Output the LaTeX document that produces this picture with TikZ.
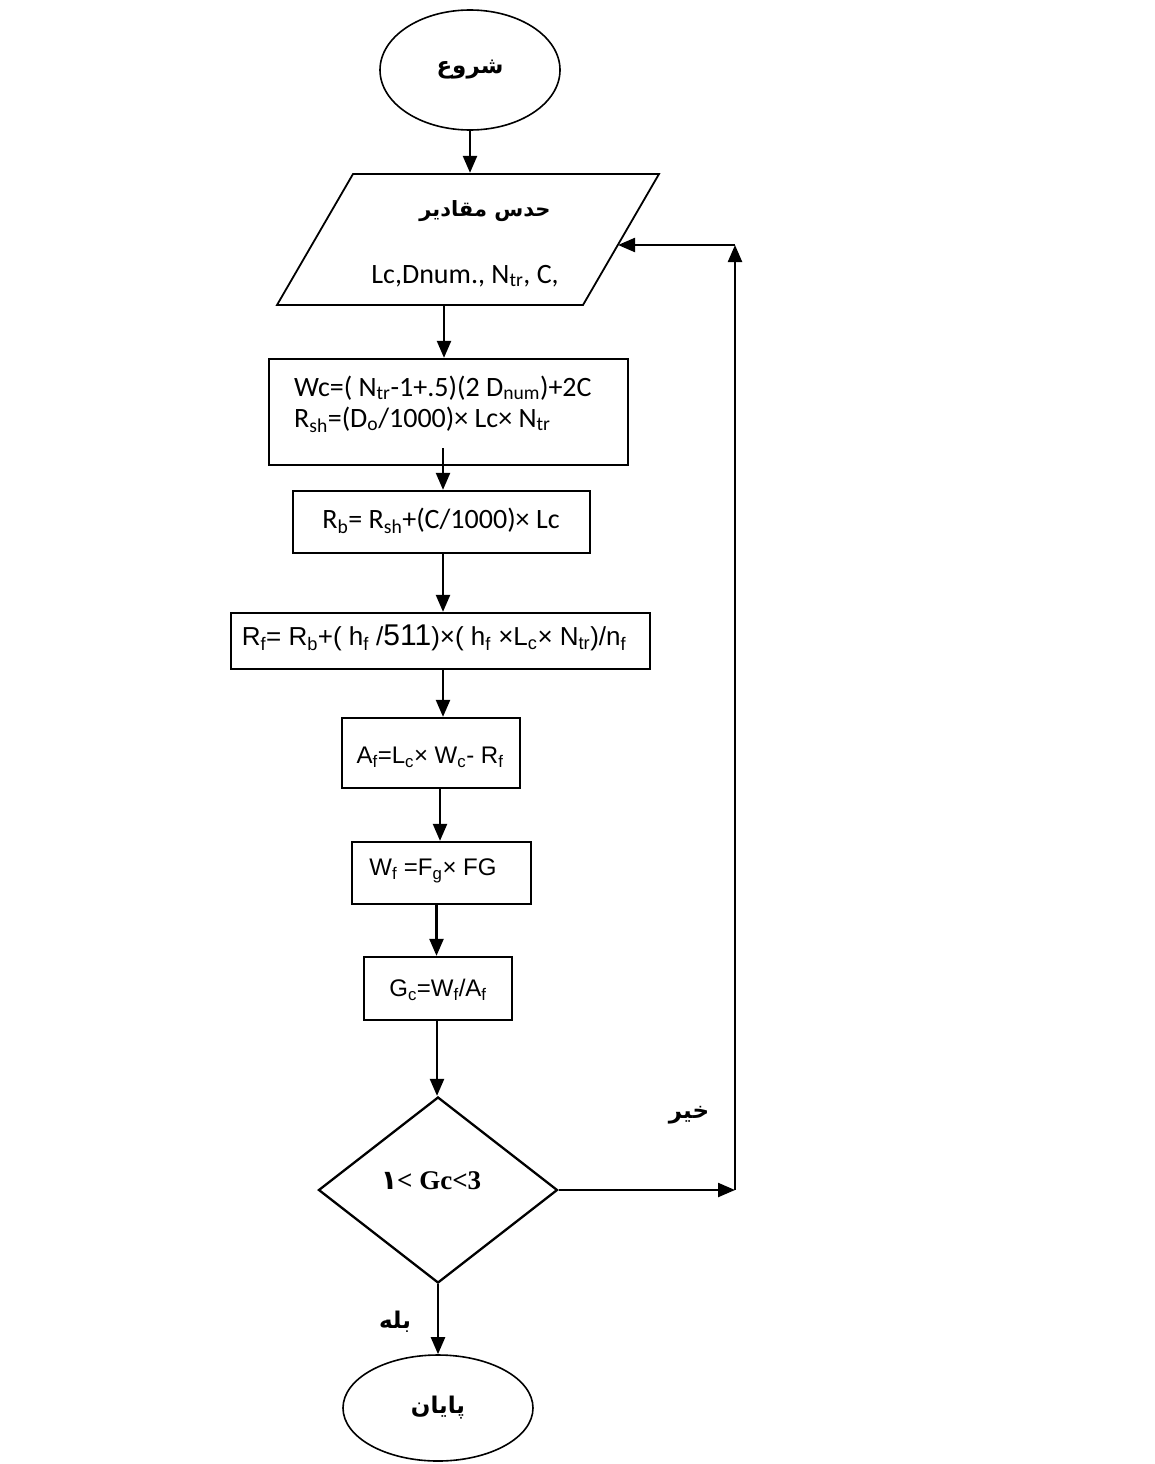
\documentclass[tikz,border=0pt]{standalone}
\usepackage{fontspec}
\setmainfont{Liberation Serif}
\newfontfamily\calfont{Carlito}
\newfontfamily\arialfont{Liberation Sans}
\newfontfamily\arabicfont[Script=Arabic]{DejaVu Sans}
\TeXXeTstate=1
\usetikzlibrary{shapes.geometric,arrows.meta}
\newcommand{\sbs}[1]{\textsubscript{#1}}
\begin{document}
\begin{tikzpicture}[x=1pt,y=-1pt,line width=2.3pt,
  arr/.style={-{Triangle[length=17pt,width=14pt]}},
  box/.style={draw,rectangle,inner sep=0pt},
  oval/.style={draw,ellipse,inner sep=0pt,line width=1.6pt},
  lbl/.style={font=\arabicfont\bfseries\fontsize{23}{27}\selectfont},
  caltxt/.style={font=\calfont\fontsize{28}{31}\selectfont,inner sep=0pt},
  ariatxt/.style={font=\arialfont\fontsize{24}{28}\selectfont,inner sep=0pt}]
\useasboundingbox (0,0) rectangle (1155,1464);
\fill[white] (0,0) rectangle (1155,1464);

% start
\node[oval,minimum width=180pt,minimum height=120pt,lbl] (start) at (470,70) {\beginR شروع\endR};

% input parallelogram
\node[inner sep=0pt,minimum width=306pt,minimum height=131pt] (inp) at (468,239.5) {};
\draw[line width=1.8pt] (353,174) -- (659,174) -- (583,305) -- (277,305) -- cycle;
\node[lbl,font=\arabicfont\bfseries\fontsize{21}{25}\selectfont] (inp1) at (485,211) {\beginR حدس مقادیر\endR};
\node[caltxt] (inp2) at (465,276) {Lc,Dnum., N\sbs{tr}, C,};
\coordinate (inR) at (618,245);

% box 1
\node[box,minimum width=359pt,minimum height=106pt] (b1) at (448.5,412) {};
\node[caltxt,anchor=west,align=left] (b1t) at (293,404) {Wc=( N\sbs{tr}-1+.5)(2 D\sbs{num})+2C\\R\sbs{sh}=(D\sbs{o}/1000)× Lc× N\sbs{tr}};

% box 2
\node[box,minimum width=297pt,minimum height=62pt] (b2) at (441.5,522) {};
\node[caltxt] (b2t) at (441,521) {R\sbs{b}= R\sbs{sh}+(C/1000)× Lc};

% box 3
\node[box,minimum width=419pt,minimum height=56pt] (b3) at (440.5,641) {};
\node[ariatxt,font=\arialfont\fontsize{26}{28}\selectfont] (b3t) at (434,638) {R\sbs{f}= R\sbs{b}+( h\sbs{f} /{\fontsize{30}{30}\selectfont 511})×( h\sbs{f} ×L\sbs{c}× N\sbs{tr})/n\sbs{f}};

% box 4
\node[box,minimum width=178pt,minimum height=70pt] (b4) at (431,753) {};
\node[ariatxt] (b4t) at (430,757) {A\sbs{f}=L\sbs{c}× W\sbs{c}- R\sbs{f}};

% box 5
\node[box,minimum width=179pt,minimum height=62pt] (b5) at (441.5,873) {};
\node[ariatxt] (b5t) at (433,871) {W\sbs{f} =F\sbs{g}× FG};

% box 6
\node[box,minimum width=148pt,minimum height=63pt] (b6) at (438,988.5) {};
\node[ariatxt] (b6t) at (438,990) {G\sbs{c}=W\sbs{f}/A\sbs{f}};

% decision
\node[draw,diamond,minimum width=239pt,minimum height=186pt,inner sep=0pt] (dia) at (438,1190) {};
\node[font=\bfseries\fontsize{27}{30}\selectfont,inner sep=0pt] (diat) at (431,1181) {{\arabicfont ١}< Gc<3};

% end
\node[oval,minimum width=190pt,minimum height=106pt,lbl] (endn) at (438,1408) {\beginR پایان\endR};

% labels
\node[lbl] (no) at (689,1115) {\beginR خیر\endR};
\node[lbl] (yes) at (395,1322) {\beginR بله\endR};

% connectors
\draw[arr] (start.south) -- (start.south |- inp.north);
\draw[arr] ([xshift=-24pt]inp.south) -- ([xshift=-24pt]inp.south |- b1.north);
\draw[arr] ([xshift=-5.5pt,yshift=18pt]b1.south) -- ([xshift=-5.5pt]b1.south |- b2.north);
\draw[arr] ([xshift=1.5pt]b2.south) -- ([xshift=1.5pt]b2.south |- b3.north);
\draw[arr] ([xshift=2.5pt]b3.south) -- ([xshift=2.5pt]b3.south |- b4.north);
\draw[arr] ([xshift=9pt]b4.south) -- ([xshift=9pt]b4.south |- b5.north);
\draw[arr] ([xshift=-5pt]b5.south) -- ([xshift=-5pt]b5.south |- b6.north);
\draw[arr] ([xshift=-1pt]b6.south) -- ([xshift=-1pt]b6.south |- dia.north);
\draw[arr] (dia.south) -- (endn.north);
\coordinate (cr) at (735,1190);
\coordinate (ct) at (735,245);
\draw[arr] (dia.east) -- (cr);
\draw[arr] (cr) -- (ct);
\draw[arr] (ct) -- (inR);
\end{tikzpicture}
\end{document}
